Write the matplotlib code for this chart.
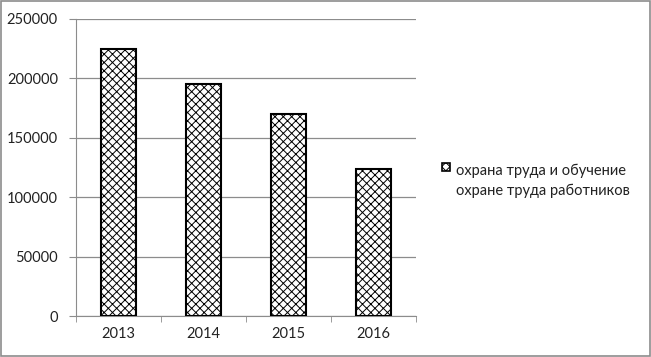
import matplotlib
matplotlib.use("Agg")
import matplotlib.pyplot as plt
from matplotlib.patches import Rectangle
import numpy as np

plt.rcParams['font.family'] = ['Lato', 'Open Sans', 'DejaVu Sans']
plt.rcParams['hatch.color'] = '#ababab'
plt.rcParams['hatch.linewidth'] = 0.7

years = ['2013', '2014', '2015', '2016']
values = [225000, 195000, 170000, 124000]
yticks = [0, 50000, 100000, 150000, 200000, 250000]
label_lines = ['охрана труда и обучение', 'охране труда работников']

fig = plt.figure(figsize=(6.51, 3.57), dpi=100)
fig.patch.set_facecolor('white')
fig.patches.append(Rectangle((0.001, 0.003), 0.997, 0.994, transform=fig.transFigure,
                             fill=False, edgecolor='#8c8c8c', linewidth=1.2))
ax = fig.add_axes([0.1167, 0.1148, 0.5223, 0.832])
x = np.arange(len(years))
ax.bar(x, values, width=0.41, facecolor='white', edgecolor='black', linewidth=1.5,
       hatch='xxxx', zorder=3)
ax.set_xlim(-0.5, 3.5)
ax.set_ylim(0, 250000)
ax.set_yticks(yticks)
ax.set_yticklabels([str(v) for v in yticks], fontsize=10.5, color='#222222')
ax.set_xticks(x)
ax.set_xticklabels(years, fontsize=10.5, color='#222222')
ax.tick_params(axis='x', length=0, pad=8)
ax.set_xticks(np.arange(-0.5, 4, 1), minor=True)
ax.tick_params(axis='x', which='minor', length=4, color='#8c8c8c', direction='out')
ax.tick_params(axis='y', length=5, color='#8c8c8c', pad=8)
ax.grid(axis='y', color='#8c8c8c', linewidth=0.9, zorder=0)
for s in ['top', 'right']:
    ax.spines[s].set_visible(False)
ax.spines['left'].set_color('#8c8c8c')
ax.spines['bottom'].set_color('#8c8c8c')

# legend
fig.patches.append(Rectangle((442/651, 1-171/357), 8/651, 8/357, transform=fig.transFigure,
                             facecolor='white', edgecolor='black', linewidth=1.2, hatch='xxxx'))
fig.text(456/651, 1-175/357, label_lines[0], fontsize=10.5, va='baseline', ha='left', color='#222222')
fig.text(456/651, 1-195/357, label_lines[1], fontsize=10.5, va='baseline', ha='left', color='#222222')

fig.savefig('out.png', dpi=100)
